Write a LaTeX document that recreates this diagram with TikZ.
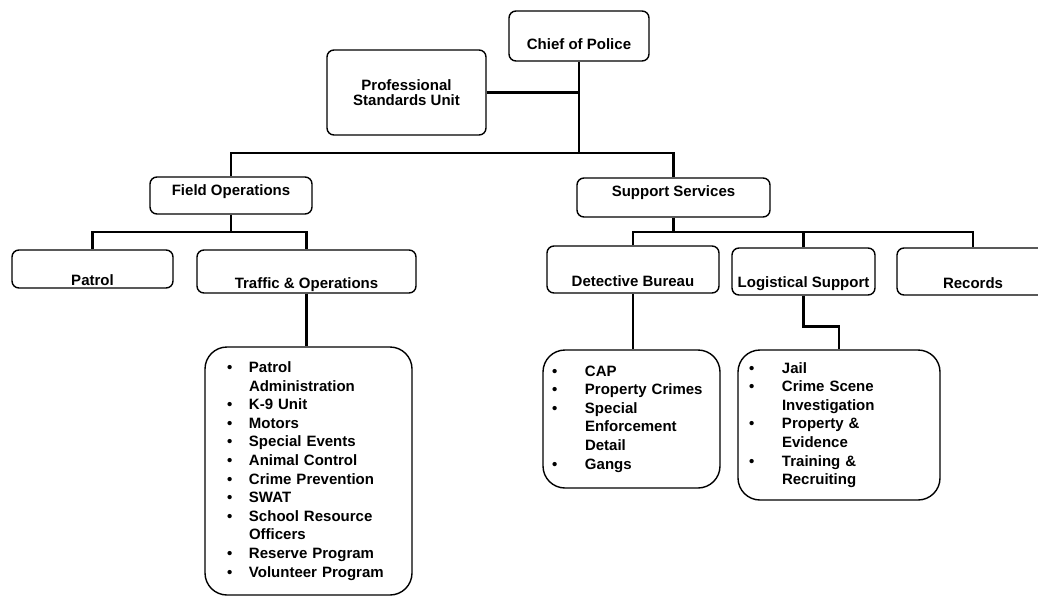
\documentclass[tikz,border=0pt]{standalone}
\usepackage{fontspec}
\setmainfont{Liberation Sans}
\usepackage{tikz}

\newcommand{\bitem}[2]{\makebox[#1][l]{\textbullet}#2}
\newcommand{\bcont}[2]{\hspace*{#1}#2}

\tikzset{
	unit/.style={draw, rounded corners=7pt, line width=1.4pt, inner xsep=0pt, inner ysep=0pt, align=center},
	duties/.style={draw, rounded corners=22pt, line width=1.4pt, inner ysep=0pt, align=left},
	conn/.style={line width=2.6pt},
}

\begin{document}
\begin{tikzpicture}[x=1pt, y=-1pt, font=\fontsize{15}{18.6}\selectfont\bfseries]
	\useasboundingbox (0,0) rectangle (1038,597);
	
	\node[unit, minimum width=140pt, text height=38pt, text depth=12pt] (chief) at (579, 36) {Chief of Police};
	\node[unit, minimum width=159pt, minimum height=85pt, font=\fontsize{15}{15.5}\selectfont\bfseries] (psu) at (406.5, 92.5) {Professional\\Standards Unit};
	\node[unit, minimum width=162pt, text height=18pt, text depth=19pt] (field) at (231, 195.5) {Field Operations};
	\node[unit, minimum width=193pt, text height=18pt, text depth=21pt] (support) at (673.5, 197.5) {Support Services};
	\node[unit, minimum width=161pt, text height=35pt, text depth=3pt] (patrol) at (92.5, 269) {Patrol};
	\node[unit, minimum width=219pt, text height=38pt, text depth=5pt] (traffic) at (306.5, 271.5) {Traffic \& Operations};
	\node[unit, minimum width=172pt, text height=40pt, text depth=7pt] (detective) at (633, 269.5) {Detective Bureau};
	\node[unit, minimum width=143pt, text height=39pt, text depth=8pt] (logistical) at (803.5, 271.5) {Logistical Support};
	\node[unit, minimum width=152pt, text height=40pt, text depth=7pt] (records) at (973, 271.5) {Records};
	
	\node[duties, text width=163pt, inner xsep=22pt, minimum height=248pt] (tlist) at (308.5, 471) {%
		\bitem{22pt}{Patrol}\\
		\bcont{22pt}{Administration}\\
		\bitem{22pt}{K-9 Unit}\\
		\bitem{22pt}{Motors}\\
		\bitem{22pt}{Special Events}\\
		\bitem{22pt}{Animal Control}\\
		\bitem{22pt}{Crime Prevention}\\
		\bitem{22pt}{SWAT}\\
		\bitem{22pt}{School Resource}\\
		\bcont{22pt}{Officers}\\
		\bitem{22pt}{Reserve Program}\\
		\bitem{22pt}{Volunteer Program}};
	\node[duties, text width=159pt, inner xsep=9pt, minimum height=138pt] (dlist) at (631.5, 419) {%
		\bitem{33pt}{CAP}\\
		\bitem{33pt}{Property Crimes}\\
		\bitem{33pt}{Special}\\
		\bcont{33pt}{Enforcement}\\
		\bcont{33pt}{Detail}\\
		\bitem{33pt}{Gangs}};
	\node[duties, text width=180pt, inner xsep=11pt, minimum height=150pt] (llist) at (839, 425) {%
		\bitem{33pt}{Jail}\\
		\bitem{33pt}{Crime Scene}\\
		\bcont{33pt}{Investigation}\\
		\bitem{33pt}{Property \&}\\
		\bcont{33pt}{Evidence}\\
		\bitem{33pt}{Training \&}\\
		\bcont{33pt}{Recruiting}};
	
	\coordinate (hub) at (579, 153);
	\coordinate (fhub) at (231, 232);
	\coordinate (shub) at (673.5, 232);
	
	\draw[conn] (chief) -- (hub);
	\draw[conn] (psu) -| (chief);
	\draw[conn] (field) |- (hub) -| (support);
	\draw[conn] (field) -- (fhub);
	\draw[conn] (patrol) |- (fhub) -| (traffic);
	\draw[conn] (support) -- (shub);
	\draw[conn] (detective) |- (shub) -| (records);
	\draw[conn] (logistical) -- (logistical |- shub);
	\draw[conn] (traffic) -- (traffic |- tlist.north);
	\draw[conn] (detective) -- (detective |- dlist.north);
	\draw[conn] (logistical.south) -- ++(0, 31) -| (llist);
	
\end{tikzpicture}
\end{document}
